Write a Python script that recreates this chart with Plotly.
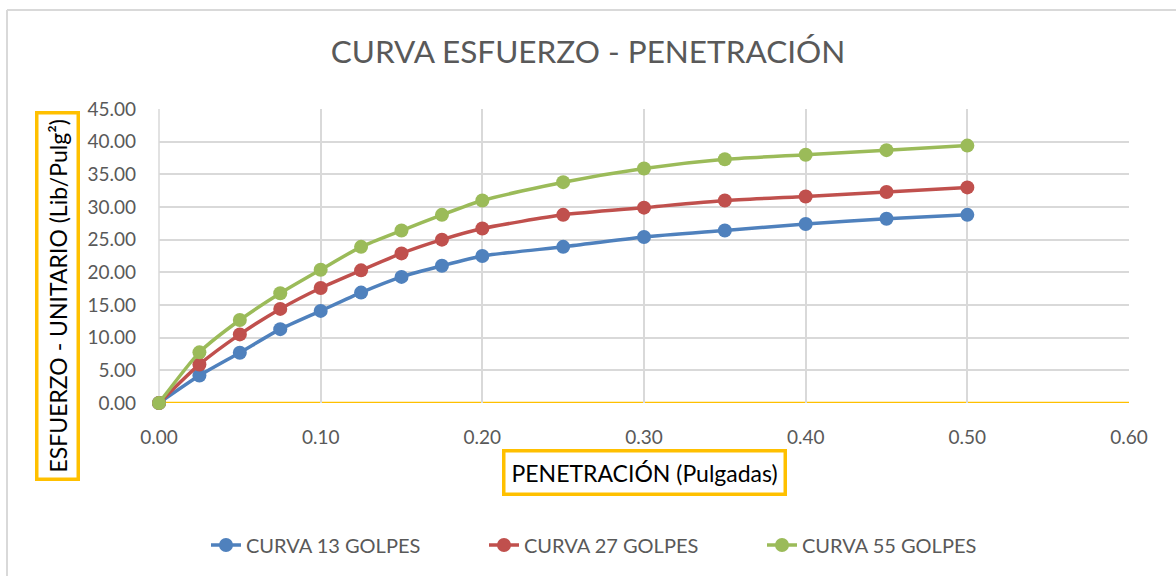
import plotly.graph_objects as go

# Penetration readings (inches)
penetracion = [0.0, 0.025, 0.05, 0.075, 0.10, 0.125, 0.15, 0.175, 0.20,
               0.25, 0.30, 0.35, 0.40, 0.45, 0.50]

# Unit stress (lb/in²) for each compaction energy
curva_13 = [0.0, 4.2, 7.7, 11.3, 14.1, 16.9, 19.3, 21.0, 22.5,
            23.9, 25.4, 26.4, 27.4, 28.2, 28.8]
curva_27 = [0.0, 5.9, 10.5, 14.4, 17.6, 20.3, 22.9, 25.0, 26.7,
            28.8, 29.9, 31.0, 31.6, 32.3, 33.0]
curva_55 = [0.0, 7.75, 12.7, 16.8, 20.4, 23.9, 26.4, 28.8, 31.0,
            33.8, 35.9, 37.3, 38.0, 38.7, 39.4]

series = [
    ("CURVA 13 GOLPES", curva_13, "#4F81BD"),
    ("CURVA 27 GOLPES", curva_27, "#C0504D"),
    ("CURVA 55 GOLPES", curva_55, "#9BBB59"),
]

FONT = "Lato"
GRAY = "#595959"
ORANGE = "#FFC000"

fig = go.Figure()
for name, vals, color in series:
    fig.add_trace(go.Scatter(
        x=penetracion, y=vals, name=name, mode="lines+markers",
        line=dict(color=color, width=3.5, shape="spline", smoothing=0.6),
        marker=dict(color=color, size=14),
        cliponaxis=False,
    ))

fig.update_layout(
    width=1176, height=576,
    margin=dict(l=159, r=47, t=109, b=173),
    paper_bgcolor="white", plot_bgcolor="white",
    font=dict(family=FONT, color=GRAY, size=19),
    title=dict(text="CURVA ESFUERZO - PENETRACIÓN", x=0.5, xanchor="center",
               y=0.91, yanchor="middle",
               font=dict(family=FONT, size=31.5, color=GRAY)),
    showlegend=True,
    legend=dict(orientation="h", x=(206 - 159) / 970, xanchor="left",
                y=-0.483, yanchor="middle", font=dict(size=20, color=GRAY),
                entrywidth=233, entrywidthmode="pixels"),
    xaxis=dict(range=[0, 0.6], dtick=0.1, tickformat=".2f",
               showgrid=True, gridcolor="#D9D9D9", gridwidth=1.5,
               zeroline=False, showline=False, ticks="",
               tickfont=dict(size=19, color=GRAY), ticklabelstandoff=21),
    yaxis=dict(range=[0, 45], dtick=5, tickformat=".2f",
               showgrid=True, gridcolor="#D9D9D9", gridwidth=1.5,
               zeroline=False, showline=False, ticks="",
               tickfont=dict(size=19, color=GRAY), ticklabelstandoff=22),
)

# Left edge gridline and yellow baseline of the plot area
fig.add_shape(type="line", xref="paper", yref="paper", x0=0, x1=0, y0=0, y1=1,
              line=dict(color="#D9D9D9", width=1.5), layer="below")
fig.add_shape(type="line", xref="paper", yref="y", x0=0, x1=1, y0=0, y1=0,
              line=dict(color=ORANGE, width=2.5), layer="below")

# Chart frame (top and left edges)
fig.add_shape(type="line", xref="paper", yref="paper",
              x0=-0.1567, x1=1.06, y0=1.3367, y1=1.3367,
              line=dict(color="#D9D9D9", width=2))
fig.add_shape(type="line", xref="paper", yref="paper",
              x0=-0.1567, x1=-0.1567, y0=1.3367, y1=-0.62,
              line=dict(color="#D9D9D9", width=2))

# Axis titles in outlined boxes
fig.add_annotation(text="PENETRACIÓN (Pulgadas)", xref="paper", yref="paper",
                   x=(644 - 159) / 970, y=(403 - 472) / 294,
                   xanchor="center", yanchor="middle", showarrow=False,
                   font=dict(family=FONT, size=23, color="black"),
                   bordercolor=ORANGE, borderwidth=3.5, borderpad=6,
                   bgcolor="white")
fig.add_annotation(text="ESFUERZO - UNITARIO (Lib/Pulg²)", xref="paper",
                   yref="paper", x=(57 - 159) / 970, y=(403 - 296) / 294,
                   xanchor="center", yanchor="middle", showarrow=False,
                   textangle=-90,
                   font=dict(family=FONT, size=23, color="black"),
                   bordercolor=ORANGE, borderwidth=3.5, borderpad=5,
                   bgcolor="white")

fig.write_html("out.html")
